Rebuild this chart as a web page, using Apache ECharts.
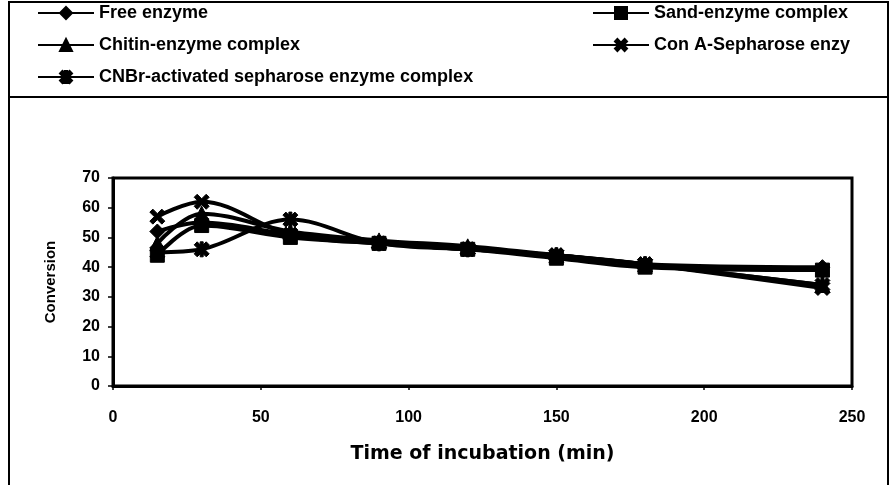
<!DOCTYPE html>
<html>
<head>
<meta charset="utf-8">
<script src="https://cdn.jsdelivr.net/npm/echarts@6/dist/echarts.min.js"></script>
<style>
  html, body { margin: 0; padding: 0; background: #fff; }
  #chart { width: 893px; height: 485px; }
</style>
</head>
<body>
<div id="chart"></div>
<script>
// time of incubation (min)
var times = [15, 30, 60, 90, 120, 150, 180, 240];

// conversion values
var freeEnzyme = [52, 55, 51, 48, 46, 44, 41, 40];
var sandEnzyme = [44, 54, 50, 48, 46, 43, 40, 39];
var chitinEnzyme = [48, 58, 52, 49, 47, 44, 41, 34];
var conAEnzyme = [57, 62, 51, 48, 46, 44, 41, 33];
var cnbrEnzyme = [45, 46, 56, 48, 46, 44, 41, 34];

var xTicks = [0, 50, 100, 150, 200, 250];
var yTicks = [0, 10, 20, 30, 40, 50, 60, 70];

var names = [
  'Free enzyme',
  'Sand-enzyme complex',
  'Chitin-enzyme complex',
  'Con A-Sepharose enzy',
  'CNBr-activated sepharose enzyme complex'
];

var crossPath = 'path://M0,2L2,0L5,3L8,0L10,2L7,5L10,8L8,10L5,7L2,10L0,8L3,5Z';
var starPath = 'path://M0,2L2,0L5,3L8,0L10,2L7,5L10,8L8,10L5,7L2,10L0,8L3,5Z M4,0L6,0L6,10L4,10Z';

var symbols = ['diamond', 'rect', 'triangle', crossPath, starPath];
var sizes = [15, 14, 15, 15, 15];
var values = [freeEnzyme, sandEnzyme, chitinEnzyme, conAEnzyme, cnbrEnzyme];

function pairs(arr) {
  return times.map(function (t, i) { return [t, arr[i]]; });
}

var font = '"Liberation Sans", Arial, sans-serif';
var wideFont = '"DejaVu Sans", sans-serif';

// legend slots: left column and right column
var legendPos = [
  { left: 37, top: 4 },
  { left: 592, top: 4 },
  { left: 37, top: 36 },
  { left: 592, top: 36 },
  { left: 37, top: 68 }
];

var legends = names.map(function (n, i) {
  return {
    data: [n],
    left: legendPos[i].left,
    top: legendPos[i].top,
    itemWidth: 56,
    itemHeight: 15,
    itemGap: 4,
    padding: 0,
    textStyle: { color: '#000', fontFamily: font, fontWeight: 'bold', fontSize: 18 }
  };
});

var series = names.map(function (n, i) {
  return {
    name: n,
    type: 'line',
    smooth: 0.35,
    data: pairs(values[i]),
    symbol: symbols[i],
    symbolSize: sizes[i],
    lineStyle: { color: '#000', width: 4 },
    itemStyle: { color: '#000', borderColor: '#000', borderWidth: 1 }
  };
});

var chart = echarts.init(document.getElementById('chart'));
chart.setOption({
  backgroundColor: '#fff',
  animation: false,
  legend: legends,
  graphic: [
    {
      type: 'rect',
      shape: { x: 9, y: 2, width: 879, height: 497 },
      style: { fill: 'none', stroke: '#000', lineWidth: 2 }
    },
    {
      type: 'line',
      shape: { x1: 9, y1: 97, x2: 888, y2: 97 },
      style: { stroke: '#000', lineWidth: 2 }
    }
  ],
  grid: {
    left: 113,
    right: 41,
    top: 178,
    bottom: 99,
    show: true,
    borderColor: '#000',
    borderWidth: 3
  },
  xAxis: {
    type: 'value',
    min: xTicks[0],
    max: xTicks[xTicks.length - 1],
    interval: 50,
    name: 'Time of incubation (min)',
    nameLocation: 'middle',
    nameGap: 59,
    nameTextStyle: { color: '#000', fontFamily: wideFont, fontWeight: 'bold', fontSize: 19 },
    axisLine: { lineStyle: { color: '#000', width: 3 } },
    axisTick: { inside: false, length: 4, lineStyle: { color: '#000', width: 1.5 } },
    axisLabel: { color: '#000', fontFamily: font, fontWeight: 'bold', fontSize: 16, margin: 24 },
    splitLine: { show: false }
  },
  yAxis: {
    type: 'value',
    min: yTicks[0],
    max: yTicks[yTicks.length - 1],
    interval: 10,
    name: 'Conversion',
    nameLocation: 'middle',
    nameGap: 55,
    nameTextStyle: { color: '#000', fontFamily: font, fontWeight: 'bold', fontSize: 15 },
    axisLine: { lineStyle: { color: '#000', width: 3 } },
    axisTick: { inside: false, length: 5, lineStyle: { color: '#000', width: 1.5 } },
    axisLabel: { color: '#000', fontFamily: font, fontWeight: 'bold', fontSize: 16, margin: 13 },
    splitLine: { show: false }
  },
  series: series
});
</script>
</body>
</html>
